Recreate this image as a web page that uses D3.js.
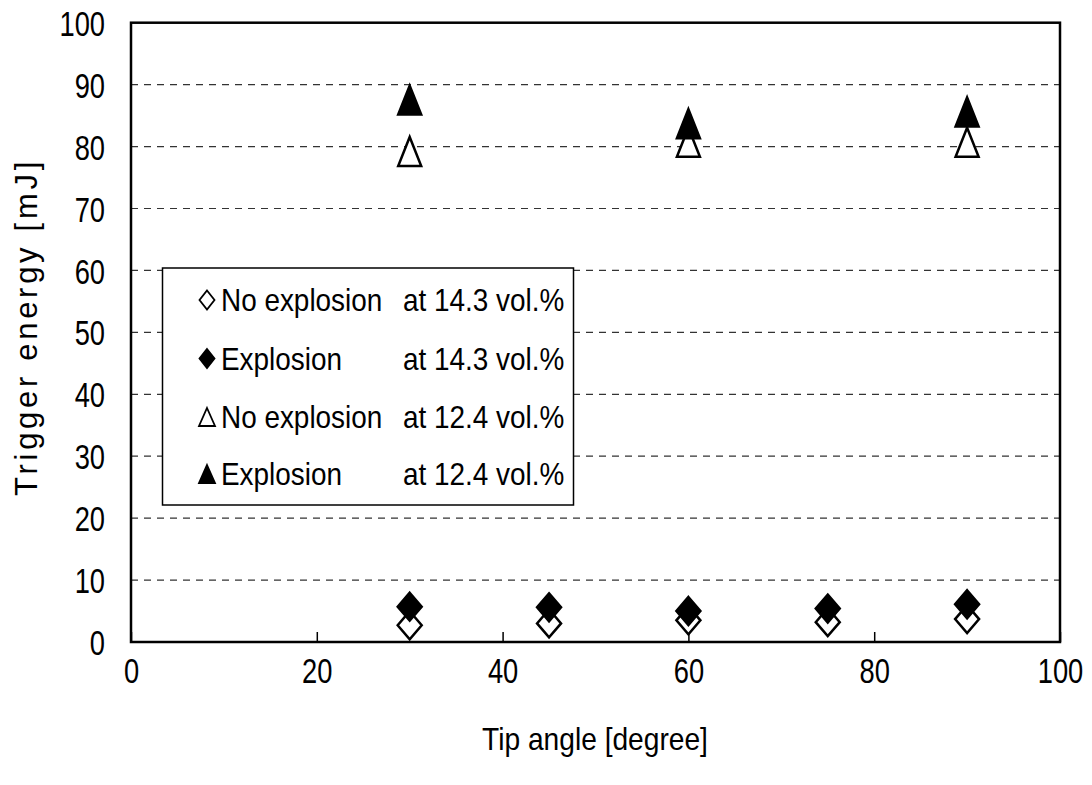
<!DOCTYPE html>
<html>
<head>
<meta charset="utf-8">
<script src="https://cdn.jsdelivr.net/npm/d3@7"></script>
<style>
  body { margin: 0; background: #fff; }
  svg { display: block; }
  text { font-family: "Liberation Sans", Arial, sans-serif; }
</style>
</head>
<body>
<svg></svg>
<script>
// data
let diamondAngles = [30, 45, 60, 75, 90];
let noExplosion143 = [2.7, 3.0, 3.5, 3.2, 3.7];
let explosion143 = [5.7, 5.6, 5.0, 5.4, 6.1];

let triangleAngles = [30, 60, 90];
let noExplosion124 = [79.2, 80.7, 80.7];
let explosion124 = [87.5, 83.7, 85.6];

let xTicks = [0, 20, 40, 60, 80, 100];
let yTicks = [0, 10, 20, 30, 40, 50, 60, 70, 80, 90, 100];

let legendNames = ["No explosion", "Explosion", "No explosion", "Explosion"];
let legendConc = ["at 14.3 vol.%", "at 14.3 vol.%", "at 12.4 vol.%", "at 12.4 vol.%"];

let width = 1092;
let height = 785;
let plotLeft = 131, plotRight = 1060, plotTop = 22.7, plotBottom = 642;

let svg = d3.select("svg").attr("width", width).attr("height", height);

let xScale = d3.scaleLinear().domain([0, 100]).range([plotLeft, plotRight]);
let yScale = d3.scaleLinear().domain([0, 100]).range([plotBottom, plotTop]);

// marker paths, centred on 0,0
let diamond = (w, h) => `M0,${-h/2}L${w/2},0L0,${h/2}L${-w/2},0Z`;
let triangle = (w, h) => `M0,${-h/2}L${w/2},${h/2}L${-w/2},${h/2}Z`;

// the original uses a condensed font, so squeeze text horizontally
let narrowText = (g, x, y, size, sx, str) => {
    return g.append("text")
            .attr("transform", "translate(" + x + "," + y + ") scale(" + sx + ",1)")
            .attr("dy", "0.36em")
            .attr("font-size", size)
            .text(str)
}

// gridlines
svg.append("g")
   .selectAll("line")
   .data(yTicks.filter((d) => d > 0 && d < 100))
   .enter()
   .append("line")
   .attr("x1", plotLeft)
   .attr("x2", plotRight)
   .attr("y1", (d) => yScale(d))
   .attr("y2", (d) => yScale(d))
   .attr("stroke", "#333")
   .attr("stroke-width", 1.2)
   .attr("stroke-dasharray", "7,6")

// x axis with inside ticks
let xAxis = svg.append("g")
   .attr("transform", "translate(0," + plotBottom + ")")
   .call(d3.axisBottom(xScale).tickValues(xTicks).tickSizeInner(-10).tickSizeOuter(0).tickFormat((d) => d))
xAxis.select(".domain").remove()
xAxis.selectAll(".tick line").attr("stroke", "#000").attr("stroke-width", 1.5)
xAxis.selectAll(".tick text")
     .attr("y", 0)
     .attr("dy", "0.36em")
     .attr("transform", "translate(0,28) scale(0.78,1)")
     .attr("font-size", 35)
     .attr("fill", "#000")

let yAxis = svg.append("g")
   .attr("transform", "translate(" + plotLeft + ",0)")
   .call(d3.axisLeft(yScale).tickValues(yTicks).tickSize(0).tickFormat((d) => d))
yAxis.select(".domain").remove()
yAxis.selectAll(".tick text")
     .attr("x", 0)
     .attr("dy", "0.36em")
     .attr("transform", "translate(-26,0) scale(0.78,1)")
     .attr("font-size", 35)
     .attr("fill", "#000")

// frame
svg.append("rect")
   .attr("x", plotLeft)
   .attr("y", plotTop)
   .attr("width", plotRight - plotLeft)
   .attr("height", plotBottom - plotTop)
   .attr("fill", "none")
   .attr("stroke", "#000")
   .attr("stroke-width", 2.5)

// series, drawn in legend order
let drawSeries = (xs, ys, path, fill) => {
    svg.append("g")
       .selectAll("path")
       .data(ys)
       .enter()
       .append("path")
       .attr("d", path)
       .attr("transform", (d, i) => "translate(" + xScale(xs[i]) + "," + yScale(d) + ")")
       .attr("fill", fill)
       .attr("stroke", "#000")
       .attr("stroke-width", 2.5)
}

drawSeries(diamondAngles, noExplosion143, diamond(24, 28), "#fff")
drawSeries(diamondAngles, explosion143, diamond(24, 28), "#000")
drawSeries(triangleAngles, noExplosion124, triangle(23, 29), "#fff")
drawSeries(triangleAngles, explosion124, triangle(23, 29), "#000")

// legend
let legend = svg.append("g")
legend.append("rect")
      .attr("x", 162.5)
      .attr("y", 268)
      .attr("width", 411)
      .attr("height", 237)
      .attr("fill", "#fff")
      .attr("stroke", "#000")
      .attr("stroke-width", 1.5)

let legendSymbols = [diamond(15, 19), diamond(15, 19), triangle(16, 18), triangle(16, 18)];
let legendFills = ["#fff", "#000", "#fff", "#000"];
let rowY = [300, 358.5, 417, 474];

legendNames.forEach((name, i) => {
    legend.append("path")
          .attr("d", legendSymbols[i])
          .attr("transform", "translate(207," + rowY[i] + ")")
          .attr("fill", legendFills[i])
          .attr("stroke", "#000")
          .attr("stroke-width", 1.8)
    narrowText(legend, 221, rowY[i], 31, 0.9, name)
    narrowText(legend, 403, rowY[i], 31, 0.9, legendConc[i])
})

// axis titles
narrowText(svg, 595, 738, 32, 0.88, "Tip angle [degree]")
   .attr("text-anchor", "middle")

svg.append("text")
   .attr("transform", "translate(26,327) rotate(-90)")
   .attr("dy", "0.36em")
   .attr("text-anchor", "middle")
   .attr("font-size", 31)
   .attr("letter-spacing", 3.7)
   .text("Trigger energy [mJ]")
</script>
</body>
</html>
